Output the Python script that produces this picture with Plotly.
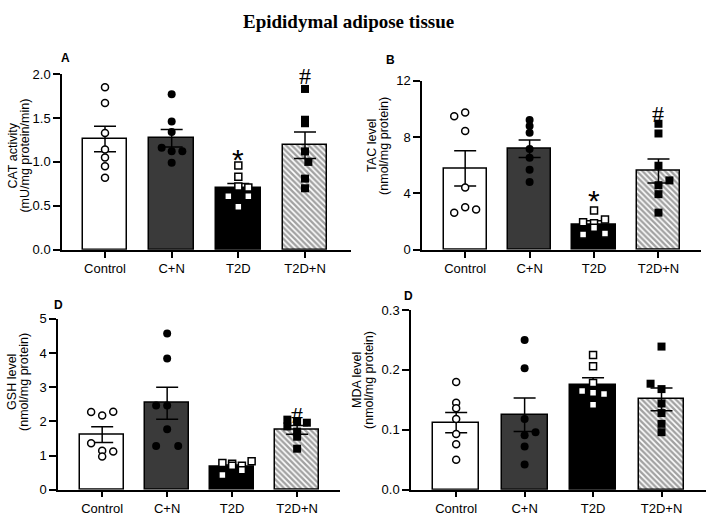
import plotly.graph_objects as go

W, H = 709, 522
groups = ["Control", "C+N", "T2D", "T2D+N"]

# ---- Panel A: CAT activity ----
cat_pts = [
    [1.85, 1.67, 1.33, 1.14, 1.05, 0.95, 0.82],
    [1.77, 1.46, 1.34, 1.16, 1.12, 1.12, 0.99],
    [0.96, 0.83, 0.72, 0.71, 0.61, 0.61, 0.49],
    [1.83, 1.48, 1.44, 1.12, 1.00, 0.81, 0.70],
]
cat_mean = [1.26, 1.27, 0.70, 1.19]
cat_sem = [0.145, 0.10, 0.055, 0.15]

# ---- Panel B: TAC level ----
tac_pts = [
    [9.48, 9.75, 8.44, 4.43, 3.03, 2.64, 2.87],
    [9.22, 8.79, 8.31, 7.16, 6.54, 5.69, 4.82],
    [2.80, 1.95, 1.88, 2.16, 1.56, 1.08, 1.15],
    [8.95, 8.26, 5.97, 4.93, 4.59, 3.95, 2.64],
]
tac_mean = [5.78, 7.18, 1.77, 5.60]
tac_sem = [1.25, 0.62, 0.30, 0.85]

# ---- Panel C: GSH level ----
gsh_pts = [
    [2.27, 2.17, 2.28, 1.36, 1.14, 1.12, 0.97],
    [4.57, 3.84, 2.46, 2.46, 1.77, 1.28, 1.28],
    [0.78, 0.76, 0.70, 0.83, 0.57, 0.43, 0.70],
    [2.05, 2.00, 1.96, 1.85, 1.70, 1.55, 1.20],
]
gsh_mean = [1.61, 2.53, 0.66, 1.75]
gsh_sem = [0.23, 0.47, 0.06, 0.13]

# ---- Panel D: MDA level ----
mda_pts = [
    [0.180, 0.145, 0.136, 0.118, 0.093, 0.076, 0.050],
    [0.250, 0.203, 0.118, 0.096, 0.091, 0.072, 0.042],
    [0.225, 0.206, 0.178, 0.165, 0.162, 0.160, 0.142],
    [0.239, 0.177, 0.168, 0.144, 0.128, 0.110, 0.096],
]
mda_mean = [0.112, 0.125, 0.175, 0.151]
mda_sem = [0.017, 0.028, 0.012, 0.019]

# jitter offsets (category units) for the scatter points
cat_jit = [[0]*7, [0, 0, 0, -0.15, 0, 0.16, 0], [0, 0, 0, 0.15, -0.15, 0.15, 0], [0, 0, 0, 0, 0.05, 0, 0]]
tac_jit = [[-0.17, 0, 0, 0, 0, -0.17, 0.17], [0]*7, [0, -0.17, 0, 0.17, 0, -0.17, 0.17], [0, 0, 0, 0.17, 0, 0, 0]]
gsh_jit = [[-0.17, 0, 0.17, -0.17, 0, 0.17, 0], [0, 0, -0.17, 0, 0, -0.17, 0.17], [-0.15, 0, 0.15, 0.3, 0.15, -0.15, 0], [-0.15, 0, 0.15, -0.15, 0, 0, 0]]
mda_jit = [[0]*7, [0, 0, 0, 0.16, 0, 0, 0], [0, 0, 0, -0.16, 0, 0.16, 0], [0, -0.16, 0, 0, 0, 0, 0]]

px = lambda v: v / W
py = lambda v: 1 - v / H

panels = [
    dict(pts=cat_pts, mean=cat_mean, sem=cat_sem, jit=cat_jit, xd=(62, 351), yd=(69, 250),
         xr=[-0.645, 3.69], yr=[0, 2.0], tv=[0, 0.5, 1.0, 1.5, 2.0], fmt=".1f",
         t1="CAT activity", t2="(mU/mg protein/min)", tx=(13, 25), ty=153, lab="A", lp=(65, 53),
         marks=[("*", 2, 1.05), ("#", 3, 1.99)]),
    dict(pts=tac_pts, mean=tac_mean, sem=tac_sem, jit=tac_jit, xd=(422, 701), yd=(76, 250),
         xr=[-0.67, 3.66], yr=[0, 12], tv=[0, 4, 8, 12], fmt="d",
         t1="TAC level", t2="(nmol/mg protein)", tx=(372, 384), ty=143, lab="B", lp=(390, 55),
         marks=[("*", 2, 3.67), ("#", 3, 9.75)]),
    dict(pts=gsh_pts, mean=gsh_mean, sem=gsh_sem, jit=gsh_jit, xd=(58, 340), yd=(321, 497),
         xr=[-0.68, 3.66], yr=[0, 5], tv=[0, 1, 2, 3, 4, 5], fmt="d",
         t1="GSH level", t2="(nmol/mg protein)", tx=(12, 24), ty=386, lab="D", lp=(58, 307),
         marks=[("#", 3, 2.22)]),
    dict(pts=mda_pts, mean=mda_mean, sem=mda_sem, jit=mda_jit, xd=(411, 706), yd=(312, 497),
         xr=[-0.66, 3.65], yr=[0, 0.3], tv=[0, 0.1, 0.2, 0.3], fmt=".1f",
         t1="MDA level", t2="(nmol/mg protein)", tx=(357, 369), ty=384, lab="D", lp=(408, 298),
         marks=[]),
]

bar_colors = ["white", "#3a3a3a", "black", "white"]
shapes = ["", "", "", "\\"]
mk = [
    dict(symbol="circle", size=7, color="white", line=dict(color="black", width=1.5)),
    dict(symbol="circle", size=8, color="black", line=dict(color="black", width=0)),
    dict(symbol="square", size=7, color="white", line=dict(color="black", width=1.5)),
    dict(symbol="square", size=8, color="black", line=dict(color="black", width=0)),
]

FONT = "Arial, Liberation Sans, sans-serif"
SERIF = "Times New Roman, Liberation Serif, serif"
fig = go.Figure()
layout = {}
annotations = []
for i, p in enumerate(panels):
    sfx = "" if i == 0 else str(i + 1)
    xa, ya = "x" + sfx, "y" + sfx
    fig.add_trace(go.Bar(
        x=[0, 1, 2, 3], y=p["mean"], width=0.67, xaxis=xa, yaxis=ya,
        marker=dict(color=bar_colors, line=dict(color="black", width=1.5),
                    pattern=dict(shape=shapes, fgcolor="black", size=4, solidity=0.6, fillmode="overlay")),
        error_y=dict(type="data", array=p["sem"], color="black", thickness=1.5, width=11),
        showlegend=False, hoverinfo="skip"))
    for g in range(4):
        fig.add_trace(go.Scatter(
            x=[g + j for j in p["jit"][g]], y=p["pts"][g], mode="markers", marker=mk[g],
            xaxis=xa, yaxis=ya, showlegend=False, cliponaxis=False))
    layout["xaxis" + sfx] = dict(
        domain=[px(p["xd"][0]), px(p["xd"][1])], range=p["xr"], anchor=ya,
        showline=True, linecolor="black", linewidth=1.5, ticks="outside", ticklen=6, tickwidth=1.5,
        tickcolor="black", tickvals=[0, 1, 2, 3], ticktext=groups,
        tickfont=dict(family=FONT, size=13, color="black"), showgrid=False, zeroline=False, fixedrange=True)
    layout["yaxis" + sfx] = dict(
        domain=[py(p["yd"][1]), py(p["yd"][0])], range=p["yr"], anchor=xa,
        showline=True, linecolor="black", linewidth=1.5, ticks="outside", ticklen=7, tickwidth=1.5,
        tickcolor="black", tickvals=p["tv"], tickformat=p["fmt"],
        tickfont=dict(family=FONT, size=13, color="black"), showgrid=False, zeroline=False, fixedrange=True)
    # y titles
    for txt, xx in ((p["t1"], p["tx"][0]), (p["t2"], p["tx"][1])):
        annotations.append(dict(text=txt, x=px(xx), y=py(p["ty"]), xref="paper", yref="paper",
                                xanchor="center", yanchor="middle", textangle=-90, showarrow=False,
                                font=dict(family=FONT, size=12.5, color="black")))
    # panel letter
    annotations.append(dict(text="<b>%s</b>" % p["lab"], x=px(p["lp"][0]), y=py(p["lp"][1]),
                            xref="paper", yref="paper", xanchor="center", yanchor="middle",
                            showarrow=False, font=dict(family=FONT, size=12, color="black")))
    for sym, g, yv in p["marks"]:
        if sym == "*":
            f = dict(family=FONT, size=30, color="black")
            ys = -2
        else:
            f = dict(family=SERIF, size=24, color="black")
            ys = -1
        annotations.append(dict(text=sym, x=g, y=yv, xref=xa, yref=ya, xanchor="center",
                                yanchor="middle", yshift=ys, showarrow=False, font=f))

annotations.append(dict(text="<b>Epididymal adipose tissue</b>", x=px(348), y=py(15), xref="paper",
                        yref="paper", xanchor="center", yanchor="middle", showarrow=False,
                        font=dict(family=SERIF, size=19, color="black")))

fig.update_layout(
    width=W, height=H, margin=dict(l=0, r=0, t=0, b=0),
    paper_bgcolor="white", plot_bgcolor="white", bargap=0,
    annotations=annotations, **layout)

fig.write_html("out.html")
